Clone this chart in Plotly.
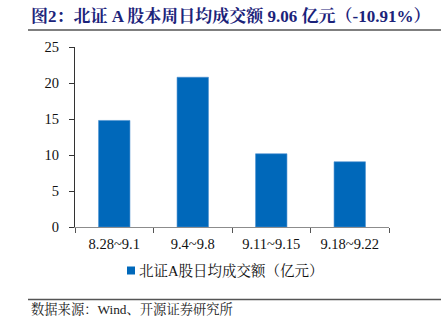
import plotly.graph_objects as go

# Weekly average daily turnover of BSE A-shares (100 million yuan)
weeks = ["8.28~9.1", "9.4~9.8", "9.11~9.15", "9.18~9.22"]
turnover = [14.8, 20.8, 10.17, 9.06]
y_ticks = [0, 5, 10, 15, 20, 25]

series_name = "北证A股日均成交额（亿元）"
title_text = "图2：北证 A 股本周日均成交额 9.06 亿元（-10.91%）"
source_text = "数据来源：Wind、开源证券研究所"

BAR_COLOR = "#0068BA"

W, H = 441, 333
ML, MR, MT, MB = 75, 52, 47, 106
PW, PH = W - ML - MR, H - MT - MB

SERIF = "Liberation Serif, Times New Roman, Noto Serif CJK SC, Noto Sans CJK SC, serif"


def px_x(x):
    return (x - ML) / PW


def px_y(y):
    return (H - MB - y) / PH


fig = go.Figure()
fig.add_trace(go.Bar(
    x=weeks, y=turnover, name=series_name,
    marker=dict(color=BAR_COLOR, line=dict(color="#4A8FD0", width=0.6)),
    width=0.4, showlegend=False,
))

fig.update_layout(
    width=W, height=H, autosize=False,
    margin=dict(l=ML, r=MR, t=MT, b=MB),
    paper_bgcolor="white", plot_bgcolor="white",
    font=dict(family=SERIF, size=14, color="#111111"),
    bargap=0.6,
    showlegend=False,
    xaxis=dict(
        range=[-0.5, 3.5], showline=True, linecolor="#8C8C8C", linewidth=1,
        ticks="outside", tickson="boundaries", ticklen=5, tickcolor="#555555",
        tickfont=dict(family=SERIF, size=14.5, color="#111111"),
        ticklabelstandoff=4,
        showgrid=False, zeroline=False, fixedrange=True,
    ),
    yaxis=dict(
        range=[0, 25], tickvals=y_ticks, showline=True, linecolor="#333333", linewidth=1,
        ticks="outside", ticklen=5, tickcolor="#333333",
        tickfont=dict(family=SERIF, size=14.5, color="#111111"),
        ticklabelstandoff=7,
        showgrid=False, zeroline=False, fixedrange=True,
    ),
)

# Series key below the axis: swatch plus label
fig.add_shape(
    type="rect", xref="paper", yref="paper",
    x0=px_x(127), x1=px_x(135), y0=px_y(266.5), y1=px_y(274.5),
    fillcolor=BAR_COLOR, line=dict(width=0),
)
fig.add_annotation(
    text=series_name, xref="paper", yref="paper",
    x=px_x(137), y=px_y(271), xanchor="left", yanchor="middle", showarrow=False,
    font=dict(family=SERIF, size=14.5, color="#111111"),
)

fig.add_annotation(
    text="<b>" + title_text + "</b>", xref="paper", yref="paper",
    x=px_x(29), y=px_y(17), xanchor="left", yanchor="middle", showarrow=False,
    font=dict(family=SERIF, size=17, color="#1B237A"),
)
fig.add_annotation(
    text=source_text, xref="paper", yref="paper",
    x=px_x(29), y=px_y(309), xanchor="left", yanchor="middle", showarrow=False,
    font=dict(family=SERIF, size=13.3, color="#222222"),
)

# Rules under the title and above the source note
for y_px in (30, 299.5):
    fig.add_shape(
        type="line", xref="paper", yref="paper",
        x0=px_x(28), x1=px_x(441), y0=px_y(y_px), y1=px_y(y_px),
        line=dict(color="#555555", width=1.5),
    )

fig.write_html("out.html")
